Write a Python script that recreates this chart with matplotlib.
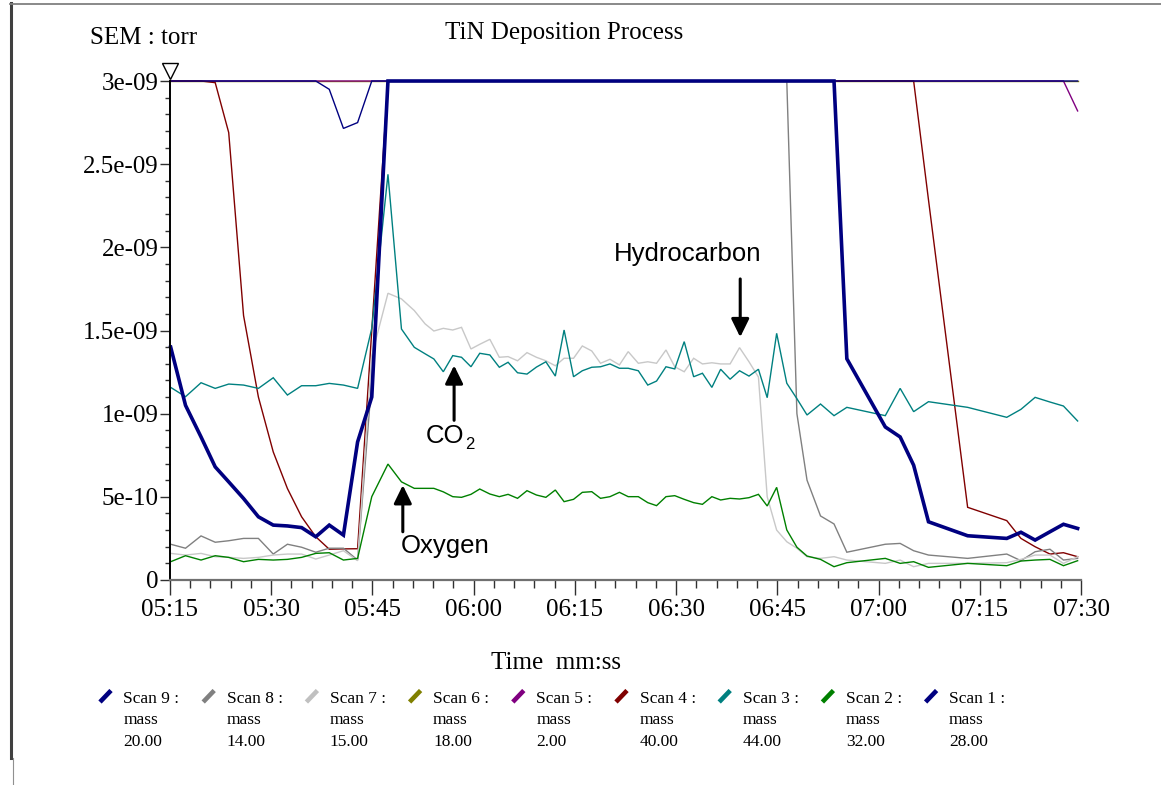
import matplotlib
matplotlib.use("Agg")
import matplotlib.pyplot as plt
from matplotlib.lines import Line2D
from matplotlib.ticker import MultipleLocator, FuncFormatter
import numpy as np

# ---------------------------------------------------------------------------
# Data: sample times (seconds, 05:15 = 315 s) and SEM readings in 1e-10 torr
# (readings are clamped at the 3e-09 display limit, as in the original plot)
# ---------------------------------------------------------------------------

t_sec = [
    315.1, 317.3, 319.6, 321.7, 323.7, 325.9, 328.1, 330.3, 332.4, 334.5,
    336.6, 338.6, 340.7, 342.8, 344.9, 347.3, 349.3, 351.2, 352.8, 354.1,
    355.5, 356.9, 358.2, 359.6, 360.9, 362.4, 363.8, 365.1, 366.5, 367.9,
    369.3, 370.7, 372.1, 373.4, 374.8, 376.1, 377.5, 378.8, 380.2, 381.6,
    382.9, 384.4, 385.8, 387.1, 388.5, 389.8, 391.2, 392.6, 393.9, 395.3,
    396.6, 398.0, 399.4, 400.8, 402.2, 403.5, 404.9, 406.4, 407.9, 409.4,
    411.4, 413.4, 415.3, 421.0, 423.2, 425.2, 427.4, 433.2, 439.0, 441.1,
    443.2, 445.4, 447.4, 449.5,
]

scan9_m20 = [
    14.0, 10.5, 8.6, 6.8, 5.9, 4.9, 3.8, 3.3, 3.25, 3.15,
    2.6, 3.3, 2.7, 8.3, 11.0, 30, 30, 30, 30, 30,
    30, 30, 30, 30, 30, 30, 30, 30, 30, 30,
    30, 30, 30, 30, 30, 30, 30, 30, 30, 30,
    30, 30, 30, 30, 30, 30, 30, 30, 30, 30,
    30, 30, 30, 30, 30, 30, 30, 30, 30, 30,
    30, 30, 13.3, 9.2, 8.6, 6.9, 3.5, 2.66, 2.5, 2.87,
    2.4, 2.9, 3.35, 3.1,
]

scan8_m14 = [
    2.15, 1.91, 2.65, 2.27, 2.36, 2.5, 2.5, 1.56, 2.15, 1.97,
    1.67, 1.91, 1.91, 1.2, 12.0, 30, 30, 30, 30, 30,
    30, 30, 30, 30, 30, 30, 30, 30, 30, 30,
    30, 30, 30, 30, 30, 30, 30, 30, 30, 30,
    30, 30, 30, 30, 30, 30, 30, 30, 30, 30,
    30, 30, 30, 30, 30, 30, 30, 30, 10.0, 6.0,
    3.85, 3.37, 1.67, 2.15, 2.2, 1.76, 1.5, 1.3, 1.56, 1.16,
    1.7, 1.85, 1.2, 1.3,
]

scan7_m15 = [
    1.6, 1.5, 1.6, 1.4, 1.36, 1.3, 1.36, 1.5, 1.56, 1.56,
    1.26, 1.5, 1.76, 1.16, 13.5, 17.24, 16.9, 16.2, 15.4, 14.97,
    15.13, 15.03, 15.19, 13.89, 14.17, 14.47, 13.39, 13.43, 13.18, 13.67,
    13.39, 13.18, 12.88, 13.33, 13.33, 14.07, 13.77, 13.03, 13.27, 12.93,
    13.73, 13.03, 13.12, 13.03, 13.83, 12.82, 12.52, 13.33, 12.99, 13.06,
    12.99, 12.99, 13.97, 13.12, 12.2, 5.0, 3.0, 2.3, 1.91, 1.4,
    1.3, 1.4, 1.2, 1.0, 1.2, 0.8, 1.0, 1.0, 1.04, 1.24,
    1.5, 1.5, 1.0, 1.4,
]

scan6_m18 = [
    30, 30, 30, 30, 30, 30, 30, 30, 30, 30,
    30, 30, 30, 30, 30, 30, 30, 30, 30, 30,
    30, 30, 30, 30, 30, 30, 30, 30, 30, 30,
    30, 30, 30, 30, 30, 30, 30, 30, 30, 30,
    30, 30, 30, 30, 30, 30, 30, 30, 30, 30,
    30, 30, 30, 30, 30, 30, 30, 30, 30, 30,
    30, 30, 30, 30, 30, 30, 30, 30, 30, 30,
    30, 30, 30, 30,
]

scan5_m2 = [
    30, 30, 30, 30, 30, 30, 30, 30, 30, 30,
    30, 30, 30, 30, 30, 30, 30, 30, 30, 30,
    30, 30, 30, 30, 30, 30, 30, 30, 30, 30,
    30, 30, 30, 30, 30, 30, 30, 30, 30, 30,
    30, 30, 30, 30, 30, 30, 30, 30, 30, 30,
    30, 30, 30, 30, 30, 30, 30, 30, 30, 30,
    30, 30, 30, 30, 30, 30, 30, 30, 30, 30,
    30, 30, 30, 28.2,
]

scan4_m40 = [
    30, 30, 30, 29.9, 26.9, 15.9, 11.0, 7.7, 5.5, 3.8,
    2.6, 1.85, 1.87, 1.88, 15.0, 30, 30, 30, 30, 30,
    30, 30, 30, 30, 30, 30, 30, 30, 30, 30,
    30, 30, 30, 30, 30, 30, 30, 30, 30, 30,
    30, 30, 30, 30, 30, 30, 30, 30, 30, 30,
    30, 30, 30, 30, 30, 30, 30, 30, 30, 30,
    30, 30, 30, 30, 30, 30, 22.85, 4.37, 3.57, 2.5,
    2.0, 1.56, 1.64, 1.40,
]

scan3_m44 = [
    11.58, 11.02, 11.86, 11.52, 11.78, 11.72, 11.52, 12.16, 11.12, 11.68,
    11.68, 11.82, 11.72, 11.52, 15.13, 24.39, 15.09, 13.99, 13.6, 13.29,
    12.52, 13.49, 13.39, 12.82, 13.63, 13.53, 12.79, 13.09, 12.46, 12.38,
    12.8, 13.12, 12.26, 15.03, 12.22, 12.58, 12.79, 12.82, 12.99, 12.73,
    12.73, 12.58, 11.72, 11.96, 12.82, 12.69, 14.33, 12.22, 12.43, 11.58,
    12.67, 12.07, 12.58, 12.26, 12.67, 10.96, 14.83, 11.83, 10.9, 9.92,
    10.58, 9.88, 10.38, 9.88, 11.52, 10.12, 10.72, 10.38, 9.78, 10.26,
    10.98, 10.7, 10.46, 9.56,
]

scan2_m32 = [
    1.1, 1.46, 1.2, 1.46, 1.36, 1.1, 1.24, 1.2, 1.24, 1.36,
    1.6, 1.64, 1.2, 1.3, 5.01, 6.97, 5.9, 5.51, 5.51, 5.51,
    5.3, 5.01, 4.97, 5.15, 5.47, 5.17, 5.01, 5.15, 4.91, 5.37,
    5.11, 4.97, 5.41, 4.71, 4.85, 5.27, 5.31, 4.91, 5.01, 5.27,
    5.01, 5.01, 4.65, 4.47, 5.01, 5.07, 4.85, 4.65, 4.55, 5.01,
    4.81, 4.91, 4.87, 4.95, 5.15, 4.45, 5.57, 3.01, 1.97, 1.44,
    1.24, 0.8, 1.04, 1.3, 1.0, 1.1, 0.76, 1.0, 0.86, 1.14,
    1.2, 1.24, 0.86, 1.16,
]

scan1_m28 = [
    30, 30, 30, 30, 30, 30, 30, 30, 30, 30,
    30, 29.5, 27.15, 27.5, 30, 30, 30, 30, 30, 30,
    30, 30, 30, 30, 30, 30, 30, 30, 30, 30,
    30, 30, 30, 30, 30, 30, 30, 30, 30, 30,
    30, 30, 30, 30, 30, 30, 30, 30, 30, 30,
    30, 30, 30, 30, 30, 30, 30, 30, 30, 30,
    30, 30, 30, 30, 30, 30, 30, 30, 30, 30,
    30, 30, 30, 30,
]

UNIT = 1e-10

# legend order (as in the original): scan number, mass label, colour
legend_scans = ["Scan 9 :", "Scan 8 :", "Scan 7 :", "Scan 6 :", "Scan 5 :",
                "Scan 4 :", "Scan 3 :", "Scan 2 :", "Scan 1 :"]
legend_mass = ["20.00", "14.00", "15.00", "18.00", "2.00",
               "40.00", "44.00", "32.00", "28.00"]
legend_colors = ["#000080", "#808080", "#c0c0c0", "#808000", "#800080",
                 "#800000", "#008080", "#008000", "#000080"]

# draw order: lines that sit on the top limit first, scan 1 over them,
# thick scan 9 last
series = [
    (scan6_m18, "#808000", 1.0),
    (scan5_m2, "#800080", 1.0),
    (scan4_m40, "#800000", 1.0),
    (scan8_m14, "#808080", 1.0),
    (scan1_m28, "#000080", 1.0),
    (scan7_m15, "#c8c8c8", 1.0),
    (scan3_m44, "#008080", 1.0),
    (scan2_m32, "#008000", 1.0),
    (scan9_m20, "#000080", 2.6),
]

# ---------------------------------------------------------------------------
# Figure
# ---------------------------------------------------------------------------

W, H = 1161, 785
SERIF = "Liberation Serif"
SANS = "Liberation Sans"


def fx(x):
    return x / W


def fy(y):
    return 1 - y / H


fig = plt.figure(figsize=(W / 100, H / 100), dpi=100)
ax = fig.add_axes([fx(170), fy(580), 911 / W, 499 / H])

t = np.array(t_sec)
for vals, color, lw in series:
    ax.plot(t, np.array(vals) * UNIT, color=color, lw=lw, clip_on=False,
            solid_joinstyle="miter")

ax.set_xlim(315, 450)
ax.set_ylim(0, 3e-9)

ax.xaxis.set_major_locator(MultipleLocator(15))
ax.xaxis.set_minor_locator(MultipleLocator(3))
ax.yaxis.set_major_locator(MultipleLocator(5e-10))
ax.yaxis.set_minor_locator(MultipleLocator(1e-10))


def mmss(v, pos):
    v = int(round(v))
    return f"{v // 60:02d}:{v % 60:02d}"


ax.xaxis.set_major_formatter(FuncFormatter(mmss))
ax.yaxis.set_major_formatter(FuncFormatter(lambda v, p: "%g" % v))

for side in ("top", "right"):
    ax.spines[side].set_visible(False)
ax.spines["left"].set_linewidth(1.4)
ax.spines["left"].set_color("black")
ax.spines["bottom"].set_linewidth(1.6)
ax.spines["bottom"].set_color("#707070")

ax.tick_params(axis="x", which="major", direction="out", length=10.5,
               width=1.0, color="#303030", pad=3, labelsize=18)
ax.tick_params(axis="x", which="minor", direction="out", length=5.5,
               width=1.0, color="#303030")
ax.tick_params(axis="y", which="major", direction="out", length=7,
               width=1.0, color="#303030", pad=1, labelsize=18)
ax.tick_params(axis="y", which="minor", direction="out", length=3.6,
               width=1.0, color="#303030")
for lab in ax.get_xticklabels() + ax.get_yticklabels():
    lab.set_fontfamily(SERIF)

# open triangle marker above the y axis
ax.plot([0], [1.0205], marker="v", ms=11, mfc="white", mec="black", mew=1.0,
        transform=ax.transAxes, clip_on=False)

# titles
fig.text(fx(564), fy(39), "TiN Deposition Process", ha="center",
         va="baseline", fontsize=18, family=SERIF)
fig.text(fx(90), fy(43.5), "SEM : torr", ha="left", va="baseline",
         fontsize=18, family=SERIF)
fig.text(fx(556), fy(669), "Time  mm:ss", ha="center", va="baseline",
         fontsize=18, family=SERIF)

# annotations
arrow_kw = dict(arrowstyle="-|>,head_length=0.55,head_width=0.27",
                color="black", lw=2.2, mutation_scale=20,
                shrinkA=0, shrinkB=0)
ax.annotate("", xy=(399.5, 14.6e-10), xytext=(399.5, 18.1e-10),
            arrowprops=arrow_kw)
ax.text(391.7, 19.2e-10, "Hydrocarbon", ha="center", va="baseline",
        fontsize=18.5, family=SANS)

ax.annotate("", xy=(357.1, 12.9e-10), xytext=(357.1, 9.6e-10),
            arrowprops=arrow_kw)
ax.text(352.9, 8.25e-10, "CO", ha="left", va="baseline",
        fontsize=18.5, family=SANS)
ax.text(358.7, 7.85e-10, "2", ha="left", va="baseline",
        fontsize=12, family=SANS)

ax.annotate("", xy=(349.5, 5.7e-10), xytext=(349.5, 2.9e-10),
            arrowprops=arrow_kw)
ax.text(349.2, 1.6e-10, "Oxygen", ha="left", va="baseline",
        fontsize=18.5, family=SANS)

# legend row
for i, (scan, mass, col) in enumerate(zip(legend_scans, legend_mass,
                                          legend_colors)):
    x0 = 123.5 + 103.2 * i
    fig.add_artist(Line2D([fx(x0 - 23.5), fx(x0 - 12.5)],
                          [fy(702), fy(690.5)], color=col, lw=3.3,
                          solid_capstyle="butt"))
    fig.text(fx(x0), fy(703.3), scan, ha="left", va="baseline",
             fontsize=12.5, family=SERIF)
    fig.text(fx(x0), fy(724.5), "mass", ha="left", va="baseline",
             fontsize=12.5, family=SERIF)
    fig.text(fx(x0), fy(745.5), mass, ha="left", va="baseline",
             fontsize=12.5, family=SERIF)

# outer frame remnants
fig.add_artist(Line2D([fx(11), fx(11)], [fy(3), fy(758)], color="#404040",
                      lw=2.2))
fig.add_artist(Line2D([fx(13), fx(13)], [fy(758), fy(785)], color="#909090",
                      lw=0.8))
fig.add_artist(Line2D([fx(10), fx(1161)], [fy(4), fy(4)], color="#808080",
                      lw=1.3))

fig.savefig("out.png", dpi=100)
